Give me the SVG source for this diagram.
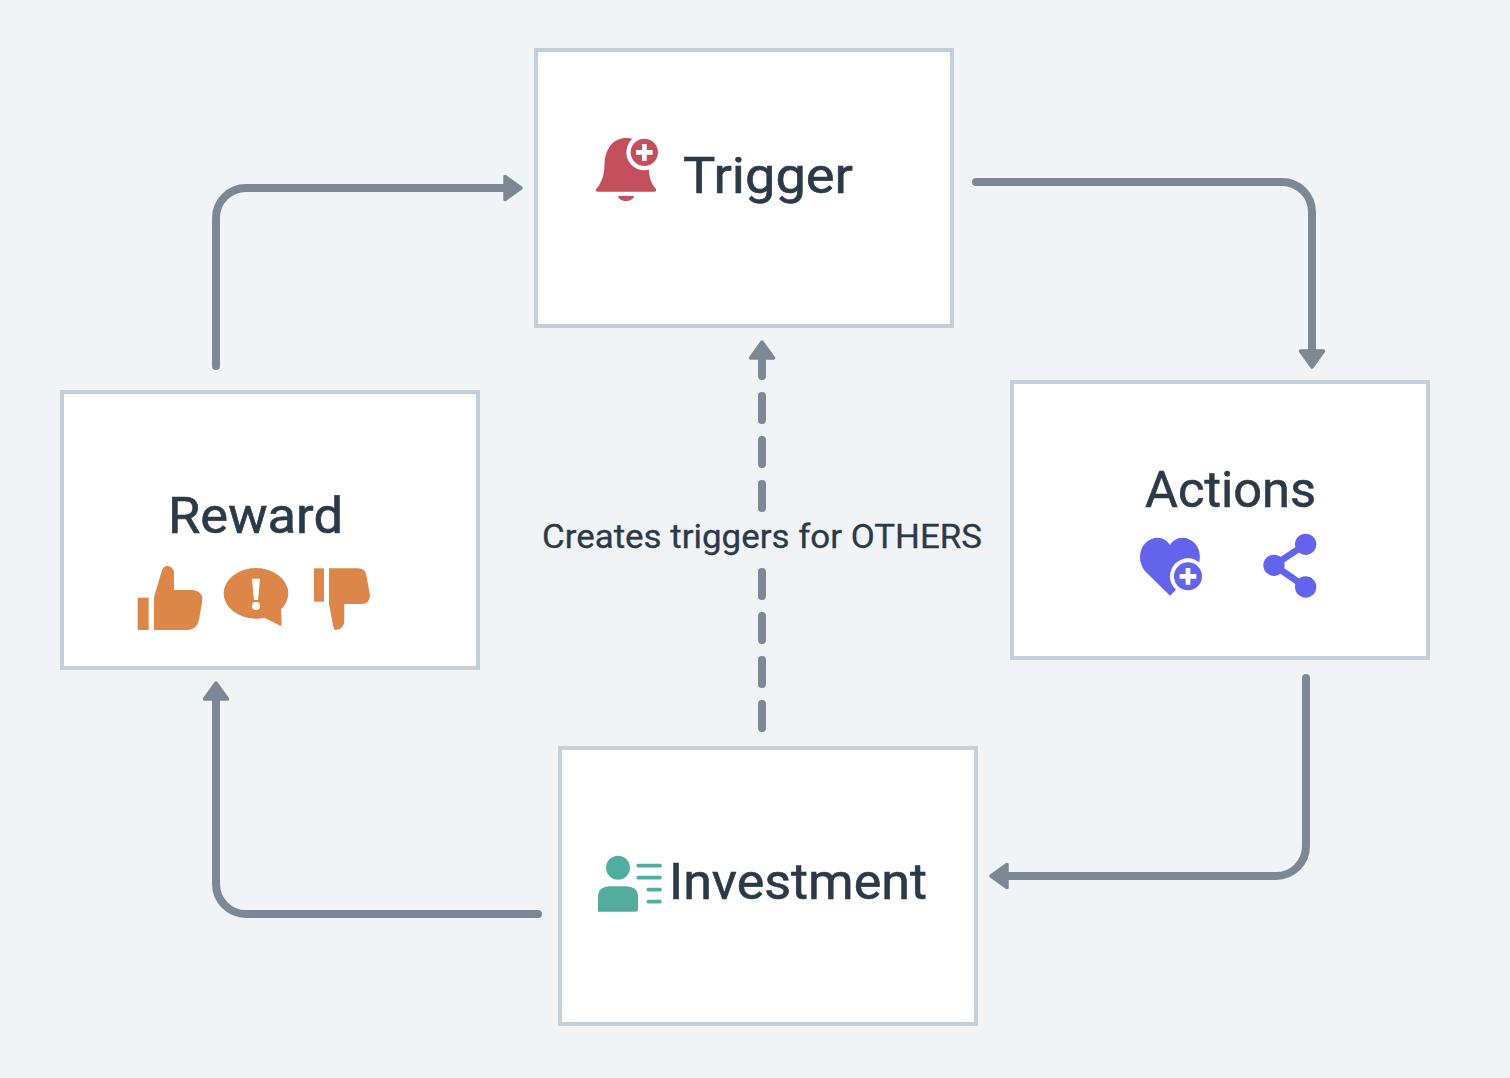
<svg xmlns="http://www.w3.org/2000/svg" width="1510" height="1078" viewBox="0 0 1510 1078">
<style>
.box{fill:#fff;stroke:#c3d0da;stroke-width:4}
.t{font-family:"Roboto","Liberation Sans",sans-serif;fill:#2b3a48;stroke:#2b3a48;stroke-width:.6px;font-size:50px;font-weight:400}
.lab{font-size:33px;stroke-width:.3px}
.c{fill:none;stroke:#7b8896;stroke-width:8;stroke-linecap:round;stroke-linejoin:round}
.end{marker-end:url(#arrow)}
.dash{stroke-dasharray:24 20}
.w{fill:#fff}
</style>
<defs>
<marker id="arrow" markerUnits="userSpaceOnUse" viewBox="-4 -15 28 30" refX="0" refY="0" markerWidth="28" markerHeight="30" orient="auto">
<path d="M0-11.500 16 0 0 11.500Z" fill="#7b8896" stroke="#7b8896" stroke-width="3.500" stroke-linejoin="round"/>
</marker>
</defs>
<rect width="1510" height="1078" fill="#f0f4f7"/>
<g id="connectors">
<path class="c end" d="M976 182H1282A30 30 0 0 1 1312 212V351"/>
<path class="c end" d="M1306 678V846A30 30 0 0 1 1276 876H1007"/>
<path class="c end" d="M538 914H246A30 30 0 0 1 216 884V699"/>
<path class="c end" d="M216 366V218A30 30 0 0 1 246 188H505"/>
<path class="c dash" d="M762 728V572"/>
<path class="c dash end" d="M762 508V358"/>
<text id="connector-label" class="t lab" x="542" y="548" textLength="440" lengthAdjust="spacingAndGlyphs">Creates triggers for OTHERS</text>
</g>
<g id="trigger">
<rect class="box" x="536" y="50" width="416" height="276"/>
<g transform="translate(580 120) scale(.3333)" fill="#c3505c">
<path d="M48 208C75 175 72 150 74 125C78 80 105 53 140 54C175 54 203 85 206 130C208 160 205 180 228 208Q230 215 222 215H54Q46 215 48 208Z"/>
<path d="M114 228H162C158 248 118 248 114 228Z"/>
<circle cx="193" cy="97" r="54" class="w"/>
<circle cx="193" cy="97" r="41"/>
<path d="M186 72h14v18h18v14h-18v18h-14v-18h-18v-14h18z" class="w"/>
</g>
<text class="t" x="683" y="193" textLength="170" lengthAdjust="spacingAndGlyphs">Trigger</text>
</g>
<g id="reward">
<rect class="box" x="62" y="392" width="416" height="276"/>
<text class="t" x="168" y="533" textLength="175" lengthAdjust="spacingAndGlyphs">Reward</text>
<g transform="translate(125 480) scale(.3333)" fill="#dc8749">
<rect x="38" y="353" width="33" height="97"/>
<path d="M87 352L112 268Q118 256 130 258Q147 262 147 280V330H200Q234 332 232 362L222 420Q216 448 190 450H87Z"/>
<ellipse cx="393" cy="340" rx="97" ry="76"/>
<path d="M415 412L466 437Q471 438 470 432L468 385Z"/>
<path class="w" d="M381 296H405L399 360H387Z"/>
<circle class="w" cx="393" cy="378" r="12"/>
<rect x="567" y="265" width="30" height="100"/>
<path d="M612 265H700Q720 265 724 285L735 345Q735 372 708 372H658V420Q658 448 634 450Q627 450 625 440L612 372Z"/>
</g>
</g>
<g id="actions">
<rect class="box" x="1012" y="382" width="416" height="276"/>
<text class="t" x="1145" y="507" textLength="171" lengthAdjust="spacingAndGlyphs">Actions</text>
<g transform="translate(1125 460) scale(.3333)" fill="#6363ec">
<path d="M135 407L62 335C30 300 45 235 98 233C115 233 128 243 135 255C142 243 155 233 172 233C225 235 240 300 208 335Z"/>
<circle class="w" cx="189" cy="349" r="54"/>
<circle cx="189" cy="349" r="42"/>
<path class="w" d="M182 324h14v18h18v14h-18v18h-14v-18h-18v-14h18z"/>
<circle cx="542" cy="253" r="32"/>
<circle cx="447" cy="316" r="32"/>
<circle cx="542" cy="381" r="32"/>
<path d="M542 253L447 316L542 381" fill="none" stroke="#6363ec" stroke-width="20"/>
</g>
</g>
<g id="investment">
<rect class="box" x="560" y="748" width="416" height="276"/>
<g transform="translate(585 845) scale(.3333)" fill="#52ad9f">
<circle cx="99" cy="68" r="36"/>
<path d="M39 200V150Q42 125 75 124H123Q156 125 159 150V192Q159 200 151 200Z"/>
<path d="M160 62H225M160 98H225M190 134H225M190 170H225" fill="none" stroke="#52ad9f" stroke-width="11" stroke-linecap="round"/>
</g>
<text class="t" x="669" y="899" textLength="258" lengthAdjust="spacingAndGlyphs">Investment</text>
</g>
</svg>
